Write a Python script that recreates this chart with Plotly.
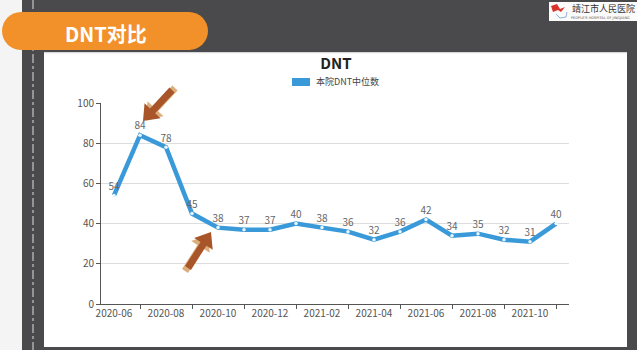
import math
import plotly.graph_objects as go

# ---- data ----
months = ["2020-06", "2020-07", "2020-08", "2020-09", "2020-10", "2020-11",
          "2020-12", "2021-01", "2021-02", "2021-03", "2021-04", "2021-05",
          "2021-06", "2021-07", "2021-08", "2021-09", "2021-10", "2021-11"]
dnt_median = [54, 84, 78, 45, 38, 37, 37, 40, 38, 36, 32, 36, 42, 34, 35, 32, 31, 40]
series_name = "本院DNT中位数"
chart_title = "DNT"
banner_text = "DNT对比"
y_ticks = [0, 20, 40, 60, 80, 100]

# ---- geometry ----
W, H = 637, 350
L, R, T, B = 101, 68, 103, 46
PW, PH = W - L - R, H - T - B

def P(x, y):
    return ((x - L) / PW, (H - B - y) / PH)

def f(x, y):
    px, py = P(x, y)
    return f"{px:.5f},{py:.5f}"

def path(points, close=True):
    s = ""
    for i, (x, y) in enumerate(points):
        s += ("M" if i == 0 else "L") + f(x, y) + " "
    return s + ("Z" if close else "")

def rect(x0, y0, x1, y1, color, layer="below"):
    a, b = P(x0, y1)
    c, d = P(x1, y0)
    return dict(type="rect", xref="paper", yref="paper", x0=a, y0=b, x1=c, y1=d,
                fillcolor=color, line=dict(width=0), layer=layer)

def pill(x0, y0, x1, y1, r):
    s = f"M{f(x0 + r, y0)} L{f(x1 - r, y0)} C{f(x1 - r*0.45, y0)} {f(x1, y0 + r*0.45)} {f(x1, y0 + r)} "
    s += f"L{f(x1, y1 - r)} C{f(x1, y1 - r*0.45)} {f(x1 - r*0.45, y1)} {f(x1 - r, y1)} L{f(x0 + r, y1)} "
    s += f"C{f(x0 + r*0.45, y1)} {f(x0, y1 - r*0.45)} {f(x0, y1 - r)} L{f(x0, y0 + r)} "
    s += f"C{f(x0, y0 + r*0.45)} {f(x0 + r*0.45, y0)} {f(x0 + r, y0)} Z"
    return s

def arrow(tail, tip, w=7, hw=22, hl=14):
    dx, dy = tip[0] - tail[0], tip[1] - tail[1]
    ln = math.hypot(dx, dy)
    ux, uy = dx / ln, dy / ln
    nx, ny = -uy, ux
    bx, by = tip[0] - ux * hl, tip[1] - uy * hl
    pts = [(tail[0] + nx * w / 2, tail[1] + ny * w / 2),
           (bx + nx * w / 2, by + ny * w / 2),
           (bx + nx * hw / 2, by + ny * hw / 2),
           tip,
           (bx - nx * hw / 2, by - ny * hw / 2),
           (bx - nx * w / 2, by - ny * w / 2),
           (tail[0] - nx * w / 2, tail[1] - ny * w / 2)]
    return path(pts)

DARK = "#4a494b"
BLUE = "#3a9ad9"
x_idx = list(range(len(months)))

fig = go.Figure()
fig.add_trace(go.Scatter(
    x=x_idx, y=dnt_median, mode="lines+markers+text", name=series_name,
    line=dict(color=BLUE, width=4.5),
    marker=dict(symbol="circle", size=3.5, color="#eaf4fb", line=dict(width=0)),
    text=[str(v) for v in dnt_median], textposition="top center",
    textfont=dict(size=10, color="#666666", family="Noto Sans CJK SC"),
    showlegend=False, cliponaxis=False,
))

shapes = [
    rect(0, 0, 22, 350, "#f4f4f4"),
    rect(44, 52, 627, 347, "#ffffff"),
    rect(44, 52, 627, 53.2, "#d9d9d9"),
]
a, _ = P(33, 0)
shapes.append(dict(type="line", xref="paper", yref="paper", x0=a, x1=a,
                   y0=P(0, 0)[1], y1=P(0, 350)[1],
                   line=dict(color="#e0e0e0", width=1, dash="dashdot"), layer="below"))
shapes.append(dict(type="path", xref="paper", yref="paper", path=pill(2, 12, 208, 50, 19),
                   fillcolor="#f2912a", line=dict(width=0), layer="above"))
shapes.append(rect(549, 2, 637, 21, "#fbfbfb", layer="above"))
shapes.append(dict(type="path", xref="paper", yref="paper",
                   path=path([(551, 6), (557, 4), (560, 9), (565, 7), (561, 12), (558, 10), (553, 12)]),
                   fillcolor="#d9342b", line=dict(width=0), layer="above"))
shapes.append(dict(type="path", xref="paper", yref="paper",
                   path=path([(556, 14), (560, 18), (566, 17), (567, 12)], close=False),
                   fillcolor="rgba(0,0,0,0)", line=dict(color="#8fb3d9", width=1), layer="above"))
shapes.append(rect(292, 78, 310, 86, BLUE, layer="above"))
for tail, tip, off in [((172, 90), (143, 121), (3, -2)), ((188, 268), (211, 232), (-3, 3))]:
    shapes.append(dict(type="path", xref="paper", yref="paper",
                       path=arrow((tail[0] + off[0], tail[1] + off[1]), (tip[0] + off[0], tip[1] + off[1])),
                       fillcolor="#dcae7c", line=dict(width=0), layer="above"))
    shapes.append(dict(type="path", xref="paper", yref="paper", path=arrow(tail, tip),
                       fillcolor="#a9552a", line=dict(width=0), layer="above"))

def ann(x, y, text, size, color, family="Noto Sans CJK SC", xanchor="center"):
    px, py = P(x, y)
    return dict(xref="paper", yref="paper", x=px, y=py, xanchor=xanchor, yanchor="middle",
                text=text, showarrow=False, font=dict(size=size, color=color, family=family))

annotations = [
    ann(106, 33, f"<b>{banner_text}</b>", 20, "white"),
    ann(314, 82, series_name, 9, "#444444", xanchor="left"),
    ann(570, 9, "靖江市人民医院", 9, "#333333", xanchor="left"),
    ann(569, 17.5, "PEOPLE'S HOSPITAL OF JINGJIANG", 3.5, "#555555", family="DejaVu Sans", xanchor="left"),
]

tx, _ = P(336, 0)
fig.update_layout(
    width=W, height=H,
    margin=dict(l=L, r=R, t=T, b=B),
    paper_bgcolor=DARK, plot_bgcolor="white",
    title=dict(text=f"<b>{chart_title}</b>", xref="paper", x=tx, xanchor="center",
               yref="container", y=1 - 64 / H, yanchor="middle",
               font=dict(size=15, color="#222222", family="Noto Sans CJK SC")),
    shapes=shapes, annotations=annotations,
    xaxis=dict(range=[-0.5, len(months) - 0.5], tickmode="array",
               tickvals=x_idx[::2], ticktext=months[::2], ticks="",
               showgrid=False, zeroline=False, showline=True, linecolor="#555555", linewidth=1,
               tickfont=dict(size=10, color="#555555", family="Noto Sans CJK SC"),
               minor=dict(tickmode="array", tickvals=x_idx[1::2], ticks="outside",
                          ticklen=4, tickcolor="#555555", showgrid=False),
               fixedrange=True),
    yaxis=dict(range=[0, 100], tickmode="array", tickvals=y_ticks, ticks="outside", ticklen=4,
               tickcolor="#555555", showgrid=True, gridcolor="#dddddd", zeroline=False,
               showline=True, linecolor="#555555", linewidth=1,
               tickfont=dict(size=10, color="#555555", family="Noto Sans CJK SC"),
               fixedrange=True),
    showlegend=False,
)

fig.write_html("out.html")
